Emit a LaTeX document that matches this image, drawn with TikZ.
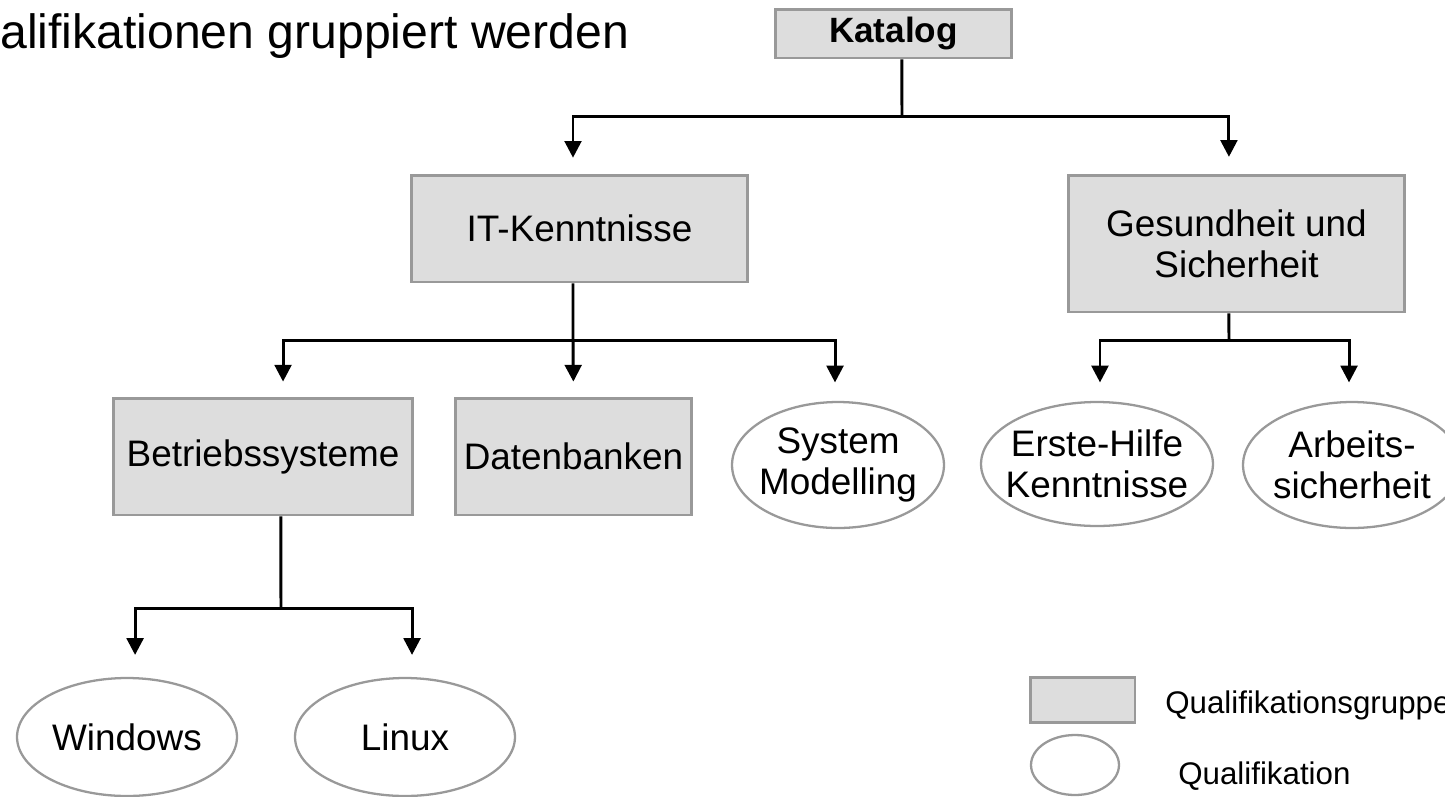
\documentclass[tikz,border=0pt]{standalone}
\usepackage{fontspec}
\setmainfont{Liberation Sans}
\usetikzlibrary{arrows.meta,shapes.geometric}
\definecolor{grpfill}{HTML}{DDDDDD}
\definecolor{edgegray}{HTML}{999999}
\begin{document}
\begin{tikzpicture}[x=0.02cm,y=-0.02cm,
  txt/.style={font=\fontsize{21}{23.5}\selectfont, align=center, inner sep=0pt},
  grp/.style={txt, rectangle, draw=edgegray, fill=grpfill, line width=1.7pt},
  qual/.style={ellipse, draw=edgegray, fill=white, line width=1.3pt, inner sep=0pt},
  legendtxt/.style={font=\fontsize{17.8}{20}\selectfont, inner sep=0pt, anchor=base west},
  conn/.style={line width=1.7pt, black},
  arr/.style={conn, -{Triangle[width=9.5pt,length=9.5pt]}}]
\useasboundingbox (0,0) rectangle (1445,796);

% heading (clipped on the left)
\node[anchor=base west, inner sep=0pt, font=\fontsize{27.4}{30}\selectfont] (title) at (0,48) {alifikationen gruppiert werden};

% qualification groups
\node[grp, font=\fontsize{20}{23}\selectfont\bfseries, minimum width=4.74cm, minimum height=0.98cm] (kat) at (893.5,33.5) {Katalog};
\node[grp, minimum width=6.74cm, minimum height=2.14cm] (it) at (579.5,228.5) {IT-Kenntnisse};
\node[grp, minimum width=6.74cm, minimum height=2.74cm] (ges) at (1236.5,243.5) {Gesundheit und\\Sicherheit};
\node[grp, minimum width=6.0cm, minimum height=2.34cm] (bs) at (263,456.5) {Betriebssysteme};
\node[grp, minimum width=4.74cm, minimum height=2.34cm] (db) at (573.5,456.5) {Datenbanken};

% qualifications
\node[qual, minimum width=4.24cm, minimum height=2.52cm, label={[txt]center:{System\\Modelling}}] (sm) at (838,465) {};
\node[qual, minimum width=4.64cm, minimum height=2.48cm, label={[txt]center:{Erste-Hilfe\\Kenntnisse}}] (eh) at (1097,464) {};
\node[qual, minimum width=4.36cm, minimum height=2.52cm, label={[txt]center:{Arbeits-\\sicherheit}}] (ar) at (1352,465) {};
\node[qual, minimum width=4.4cm, minimum height=2.36cm, label={[txt]center:Windows}] (win) at (127,737) {};
\node[qual, minimum width=4.4cm, minimum height=2.36cm, label={[txt]center:Linux}] (lin) at (405,737) {};

% branching points
\coordinate (jkat) at (902,116);
\coordinate (jit) at (573,340);
\coordinate (jges) at (1229,340);
\coordinate (jbs) at (281,608);

% Katalog -> top-level groups
\draw[conn] ([xshift=4.8pt]kat.south) -- (jkat);
\draw[arr, shorten >=9pt] (jkat) -| ([xshift=-3.7pt]it.north);
\draw[arr, shorten >=9.5pt] (jkat) -| ([xshift=-4.3pt]ges.north);

% IT-Kenntnisse -> children
\draw[conn] ([xshift=-3.7pt]it.south) -- (jit);
\draw[arr, shorten >=8.5pt] (jit) -| ([xshift=11.4pt]bs.north);
\draw[arr, shorten >=8.5pt] (jit) -- (db.north);
\draw[arr, shorten >=10.5pt] (jit) -| ([xshift=-1.7pt]sm.north);

% Gesundheit und Sicherheit -> children
\draw[conn] ([xshift=-4.3pt]ges.south) -- (jges);
\draw[arr, shorten >=10.5pt] (jges) -| ([xshift=1.7pt]eh.north);
\draw[arr, shorten >=10.5pt] (jges) -| ([xshift=-1.7pt]ar.north);

% Betriebssysteme -> children
\draw[conn] ([xshift=10.2pt]bs.south) -- (jbs);
\draw[arr, shorten >=12.5pt] (jbs) -| ([xshift=4.6pt]win.north);
\draw[arr, shorten >=12.5pt] (jbs) -| ([xshift=4pt]lin.north);

% legend
\node[grp, minimum width=2.1cm, minimum height=0.9cm] (lgrp) at (1082.5,699.5) {};
\node[qual, minimum width=1.76cm, minimum height=1.2cm] (lqual) at (1075,765) {};
\node[legendtxt] (lgrptxt) at (1165,713) {Qualifikationsgruppe};
\node[legendtxt] (lqualtxt) at (1178,784) {Qualifikation};
\end{tikzpicture}
\end{document}
